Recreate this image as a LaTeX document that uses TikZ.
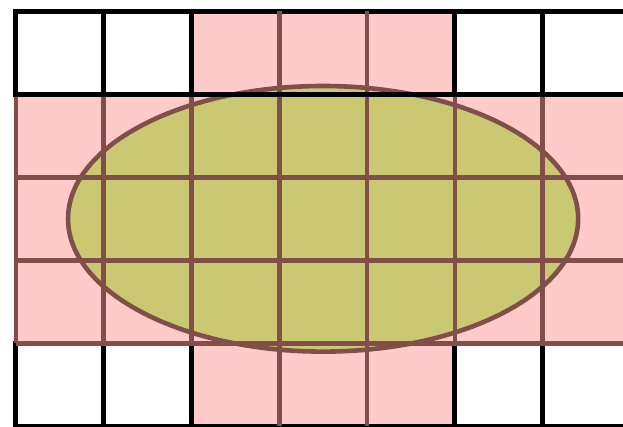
\documentclass[tikz,border=0pt]{standalone}
\definecolor{cellpink}{RGB}{255,202,202}
\definecolor{olivefill}{RGB}{202,200,114}
\definecolor{gridbrown}{RGB}{128,79,74}
\begin{document}
\begin{tikzpicture}[x=1pt,y=-1pt,
  blackline/.style={line width=5pt, draw=black, line cap=rect},
  brownline/.style={line width=4.6pt, draw=gridbrown},
  pinkcell/.style={fill=cellpink},
  ellipsestyle/.style={fill=olivefill, draw=gridbrown, line width=4.6pt}]
\useasboundingbox (0,0) rectangle (623,427);
\fill[white] (0,0) rectangle (623,427);
\clip (0,0) rectangle (623,427);
\begin{scope}[xshift=15.8pt, yshift=-11.3pt, x=87.8pt, y=-83pt]
  % pink cells
  \fill[pinkcell] (2,0) rectangle (5,1);
  \fill[pinkcell] (0,1) rectangle (7,4);
  \fill[pinkcell] (2,4) rectangle (5,5);
  % ellipse
  \path[ellipsestyle] (3.5,2.5) ellipse [x radius=2.905, y radius=1.6];
  \coordinate (ec) at (3.5,2.5);
  % black edges of the white cells
  \foreach \c in {0,1,2,5,6,7} {
    \draw[blackline] (\c,0) -- (\c,1);
    \draw[blackline] (\c,4) -- (\c,5);
  }
  \draw[blackline] (0,0) -- (7,0);
  \draw[blackline] (0,5) -- (7,5);
  % brown edges of the pink cells
  \foreach \c in {0,...,7} {
    \draw[brownline] (\c,1) -- (\c,4);
  }
  \foreach \c in {3,4} {
    \draw[brownline] (\c,0) -- (\c,1);
    \draw[brownline] (\c,4) -- (\c,5);
  }
  \foreach \r in {2,3,4} {
    \draw[brownline] (0,\r) -- (7,\r);
  }
  % black line on top
  \draw[blackline] (0,1) -- (7,1);
\end{scope}
\end{tikzpicture}
\end{document}
